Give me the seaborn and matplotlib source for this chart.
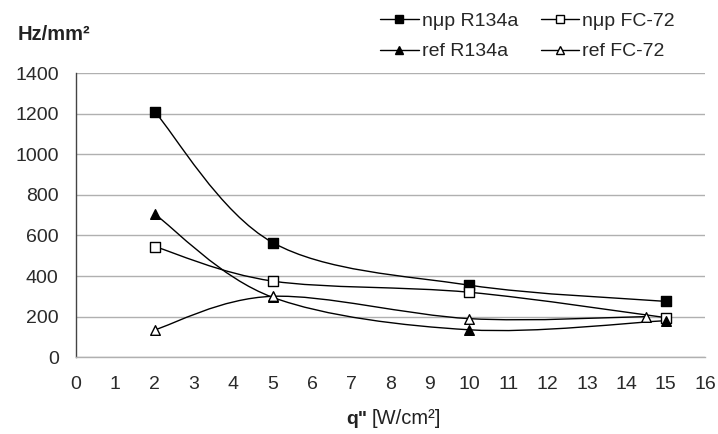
import matplotlib
matplotlib.use("Agg")
import matplotlib.pyplot as plt
import numpy as np
import pandas as pd
import seaborn as sns
from matplotlib.path import Path
from matplotlib.patches import PathPatch
from matplotlib.lines import Line2D

# data
series_names = ["nμp R134a", "nμp FC-72", "ref R134a", "ref FC-72"]
q_np_r134a = [2, 5, 10, 15]
hz_np_r134a = [1210, 565, 355, 275]
q_np_fc72 = [2, 5, 10, 15]
hz_np_fc72 = [545, 375, 320, 195]
q_ref_r134a = [2, 5, 10, 15]
hz_ref_r134a = [705, 295, 135, 180]
q_ref_fc72 = [2, 5, 10, 14.5]
hz_ref_fc72 = [135, 300, 190, 200]

x_ticks = list(range(0, 17))
y_ticks = list(range(0, 1401, 200))

rows = []
for name, xs, ys in zip(series_names,
                        [q_np_r134a, q_np_fc72, q_ref_r134a, q_ref_fc72],
                        [hz_np_r134a, hz_np_fc72, hz_ref_r134a, hz_ref_fc72]):
    for x, y in zip(xs, ys):
        rows.append({"series": name, "q": x, "hz": y})
df = pd.DataFrame(rows)

markers = {"nμp R134a": "s", "nμp FC-72": "s", "ref R134a": "^", "ref FC-72": "^"}
faces = {"nμp R134a": "black", "nμp FC-72": "white", "ref R134a": "black", "ref FC-72": "white"}


def smooth_path(xs, ys, k=1 / 6):
    # Excel-style smoothed line: cubic bezier through the points
    pts = np.column_stack([xs, ys]).astype(float)
    n = len(pts)
    verts = [pts[0]]
    codes = [Path.MOVETO]
    for i in range(n - 1):
        p0 = pts[i - 1] if i > 0 else pts[i]
        p1 = pts[i]
        p2 = pts[i + 1]
        p3 = pts[i + 2] if i + 2 < n else pts[i + 1]
        c1 = p1 + (p2 - p0) * k
        c2 = p2 - (p3 - p1) * k
        verts += [c1, c2, p2]
        codes += [Path.CURVE4] * 3
    return Path(verts, codes)


sns.set_style("white")
plt.rcParams["font.family"] = ["Liberation Sans", "DejaVu Sans"]

fig = plt.figure(figsize=(7.18, 4.34), dpi=100)
ax = fig.add_axes([0.106, 0.177, 0.876, 0.6545])

for name in series_names:
    sub = df[df["series"] == name]
    ax.add_patch(PathPatch(smooth_path(sub["q"].values, sub["hz"].values),
                           facecolor="none", edgecolor="black", lw=1.0, zorder=3))
    sns.scatterplot(data=sub, x="q", y="hz", marker=markers[name], color=faces[name],
                    edgecolor="black", linewidth=1.0, s=48, ax=ax, zorder=4, legend=False)

ax.set_xlim(0, 16)
ax.set_ylim(0, 1400)
ax.set_xticks(x_ticks)
ax.set_yticks(y_ticks)
ax.yaxis.grid(True, color="#b0b0b0", lw=1.0)
ax.xaxis.grid(False)
for s in ["top", "right"]:
    ax.spines[s].set_visible(False)
ax.spines["left"].set_color("#444444")
ax.spines["left"].set_linewidth(1.0)
ax.spines["bottom"].set_color("#b0b0b0")
ax.spines["bottom"].set_linewidth(1.0)
ax.tick_params(axis="both", direction="out", length=4.5, width=1.0, colors="#444444",
               labelsize=14, labelcolor="#2a2a2a")
ax.tick_params(axis="y", pad=8)
ax.tick_params(axis="x", pad=9)
ax.set_xlabel("")
ax.set_ylabel("")

fig.text(0.512, 0.022, 'q"', ha="right", fontsize=14, fontweight="bold", color="#222222")
fig.text(0.517, 0.022, "[W/cm²]", ha="left", fontsize=14.5, color="#222222")
fig.text(0.025, 0.92, "Hz/mm²", ha="left", va="center", fontsize=14.5, fontweight="bold",
         color="#222222")

handles = [Line2D([], [], color="black", lw=1.0, marker=markers[n], markerfacecolor=faces[n],
                  markeredgecolor="black", markersize=6) for n in series_names]
order = [0, 2, 1, 3]
fig.legend([handles[i] for i in order], [series_names[i] for i in order], ncol=2,
           loc="upper left", bbox_to_anchor=(380 / 718, 0.971), frameon=False, fontsize=14,
           handlelength=2.0, handletextpad=0.15, columnspacing=1.15, labelspacing=0.65,
           borderaxespad=0, borderpad=0)

fig.savefig("out.png", dpi=100)
